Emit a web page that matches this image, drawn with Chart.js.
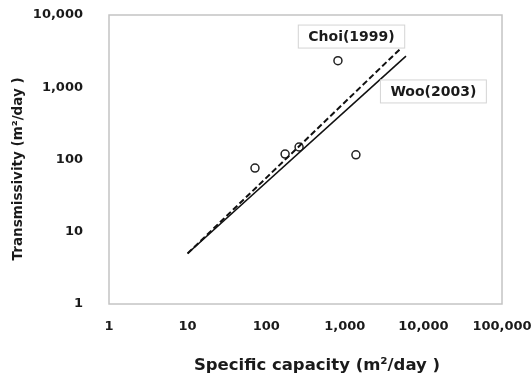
<!DOCTYPE html>
<html>
<head>
<meta charset="utf-8">
<script src="https://cdn.jsdelivr.net/npm/chart.js@4"></script>
<style>
  body { margin: 0; background: #fff; }
  #wrap { width: 532px; height: 376px; }
</style>
</head>
<body>
<div id="wrap"><canvas id="grafico"></canvas></div>
<script>
// observed wells: specific capacity vs transmissivity
const capacidade = [72, 174, 262, 818, 1385];
const transmissividade = [76, 119, 149, 2330, 116];

// regression lines (end points)
const choiX = [10, 5300];
const choiY = [5, 3550];
const wooX = [10, 6000];
const wooY = [5, 2700];

const xTicks = [1, 10, 100, 1000, 10000, 100000];
const yTicks = [1, 10, 100, 1000, 10000];

// line labels, anchored in data coordinates
const rotulos = [
  { text: 'Choi(1999)', x: 1217, y: 5030 },
  { text: 'Woo(2003)', x: 13400, y: 875 }
];

const fonte = 'DejaVu Sans';

function pares(xs, ys) {
  let temp = [];
  xs.map((v, i) => {
    temp.push({ x: v, y: ys[i] });
  });
  return temp;
}

const molduraPlugin = {
  id: 'moldura',
  afterDraw(chart) {
    const { ctx, chartArea, scales } = chart;
    ctx.save();
    ctx.strokeStyle = '#c4c4c4';
    ctx.lineWidth = 1.5;
    ctx.strokeRect(chartArea.left, chartArea.top, chartArea.right - chartArea.left, chartArea.bottom - chartArea.top);
    ctx.font = 'bold 14px "' + fonte + '"';
    ctx.textAlign = 'center';
    ctx.textBaseline = 'middle';
    rotulos.map((r) => {
      const cx = scales.x.getPixelForValue(r.x);
      const cy = scales.y.getPixelForValue(r.y);
      const w = ctx.measureText(r.text).width + 20;
      const h = 23;
      ctx.fillStyle = '#fff';
      ctx.fillRect(cx - w / 2, cy - h / 2, w, h);
      ctx.strokeStyle = '#d4d4d4';
      ctx.lineWidth = 1;
      ctx.strokeRect(cx - w / 2, cy - h / 2, w, h);
      ctx.fillStyle = '#1a1a1a';
      ctx.fillText(r.text, cx, cy + 1);
    });
    ctx.restore();
  }
};

const ctx = document.getElementById('grafico');

const myChart = new Chart(ctx, {
  type: 'scatter',
  data: {
    datasets: [
      {
        label: 'Choi(1999)',
        data: pares(choiX, choiY),
        showLine: true,
        borderColor: '#111',
        borderWidth: 2,
        borderDash: [6, 3],
        pointRadius: 0,
        fill: false
      },
      {
        label: 'Woo(2003)',
        data: pares(wooX, wooY),
        showLine: true,
        borderColor: '#111',
        borderWidth: 1.6,
        pointRadius: 0,
        fill: false
      },
      {
        label: 'Observed',
        data: pares(capacidade, transmissividade),
        showLine: false,
        pointRadius: 4,
        pointBorderWidth: 1.5,
        pointBorderColor: '#222',
        pointBackgroundColor: 'rgba(255,255,255,0)'
      }
    ]
  },
  options: {
    responsive: true,
    maintainAspectRatio: false,
    animation: false,
    layout: { padding: { top: 15, right: 30, bottom: 0, left: 0 } },
    plugins: {
      legend: { display: false },
      tooltip: { enabled: false }
    },
    scales: {
      x: {
        type: 'logarithmic',
        min: 1,
        max: 100000,
        grid: { display: false, drawTicks: false },
        border: { display: false },
        afterBuildTicks: (s) => { s.ticks = xTicks.map((v) => ({ value: v })); },
        afterFit: (s) => {
          s.height = 72;
          s.paddingLeft = 0;
          s.paddingRight = 0;
        },
        ticks: {
          padding: 15,
          maxRotation: 0,
          color: '#1a1a1a',
          font: { family: fonte, size: 13, weight: 'bold' },
          callback: (v) => Number(v).toLocaleString('en-US')
        },
        title: {
          display: true,
          // leading spaces nudge the title right like the original
          text: '    Specific capacity (m²/day )',
          color: '#1a1a1a',
          padding: { top: 0, bottom: 0 },
          font: { family: fonte, size: 16.5, weight: 'bold' }
        }
      },
      y: {
        type: 'logarithmic',
        min: 1,
        max: 10000,
        grid: { display: false, drawTicks: false },
        border: { display: false },
        afterBuildTicks: (s) => { s.ticks = yTicks.map((v) => ({ value: v })); },
        afterFit: (s) => {
          s.width = 109;
          s.paddingTop = 0;
          s.paddingBottom = 0;
        },
        ticks: {
          padding: 26,
          color: '#1a1a1a',
          font: { family: fonte, size: 13, weight: 'bold' },
          callback: (v) => Number(v).toLocaleString('en-US')
        },
        title: {
          display: true,
          text: 'Transmissivity (m²/day )    ',
          color: '#1a1a1a',
          padding: { top: 10, bottom: 0 },
          font: { family: fonte, size: 13.5, weight: 'bold' }
        }
      }
    }
  },
  plugins: [molduraPlugin]
});
</script>
</body>
</html>
